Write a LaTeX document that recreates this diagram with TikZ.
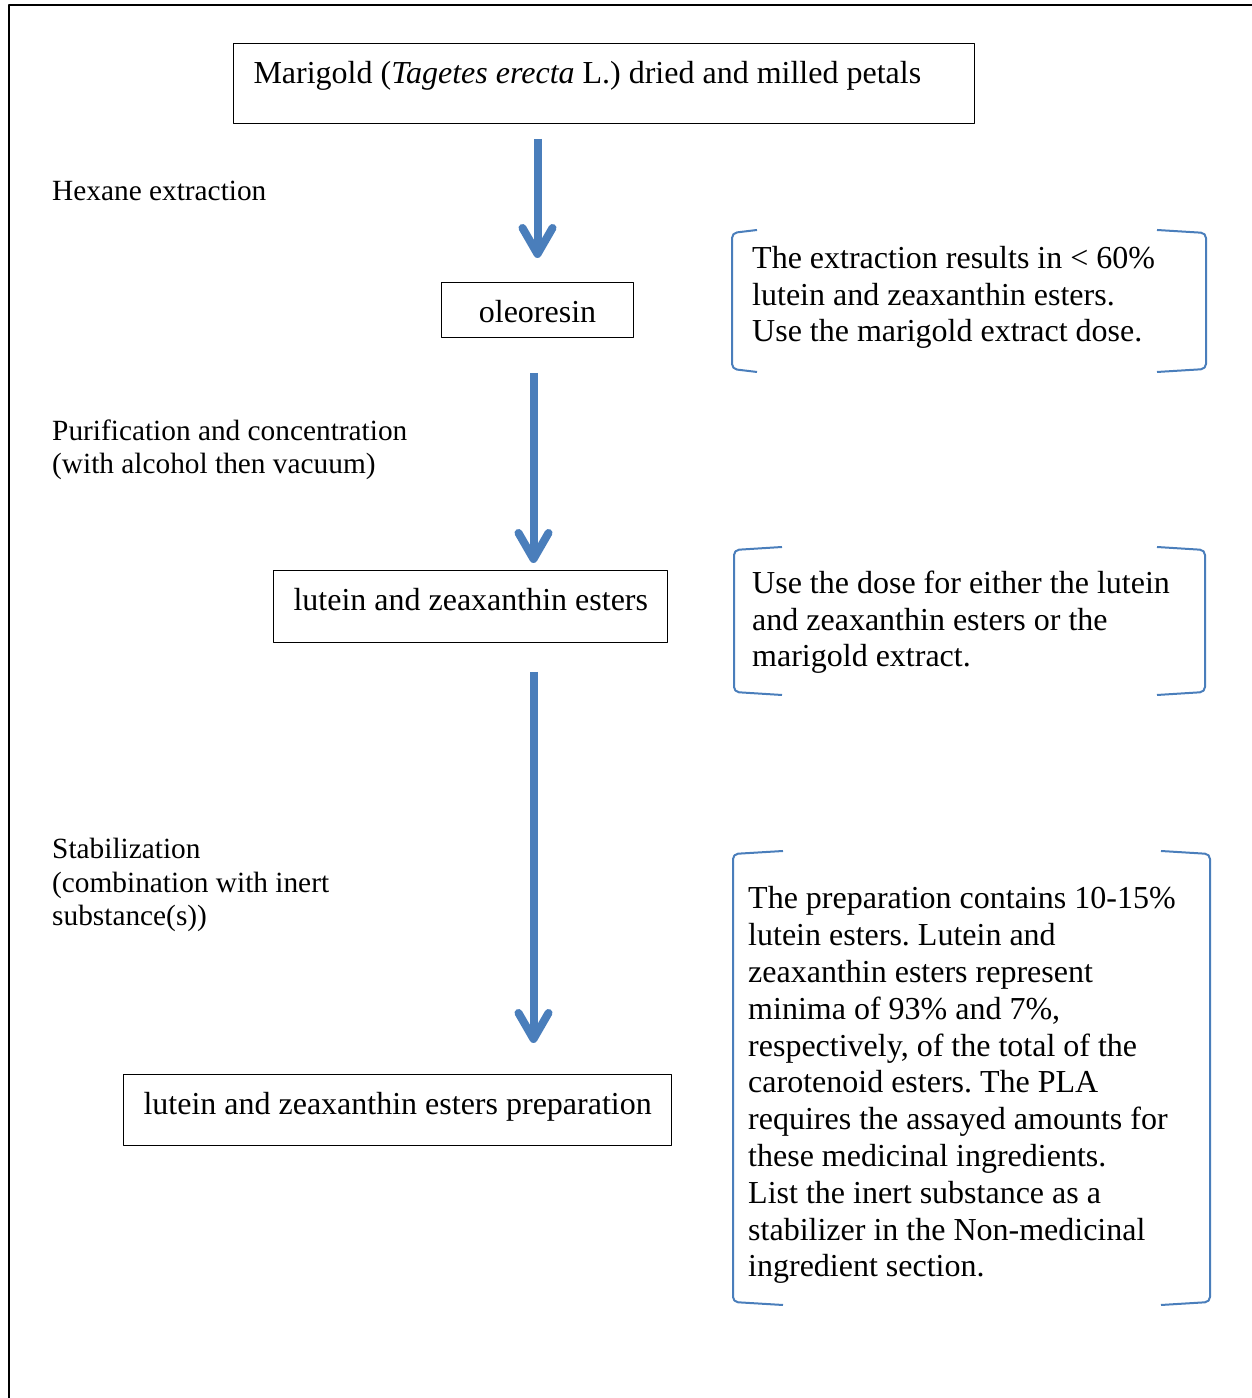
\documentclass[tikz,border=0pt]{standalone}
\usepackage{fontspec}
\setmainfont{Liberation Serif}
\usetikzlibrary{arrows.meta}

\definecolor{flowblue}{HTML}{4A7EBB}

\begin{document}
\frenchspacing
\begin{tikzpicture}[line join=bevel,
  box/.style={draw,line width=1bp,anchor=north west,inner xsep=20bp,inner ysep=0pt,
    align=flush left,text height=40bp,font=\fontsize{32bp}{36.8bp}\selectfont},
  note/.style={anchor=base west,inner sep=0pt,align=left,font=\fontsize{32bp}{36.8bp}\selectfont},
  stage/.style={anchor=base west,inner sep=0pt,align=left,font=\fontsize{29.33bp}{33.7bp}\selectfont},
  flow/.style={draw=flowblue,line width=8bp,-{Straight Barb[length=26bp,width=30bp,round]}},
  bracket/.style={draw=flowblue,line width=2bp,rounded corners=5bp},
]
\useasboundingbox (0bp,0bp) rectangle (1252bp,1398bp);
%%
  \draw [line width=2.5bp] (1252bp,1393bp) -- (9bp,1393bp) -- (9bp,0bp);
%% process boxes
  \node (marigold) at (233bp,1355bp) [box,text width=701bp,text depth=40bp]
    {\mbox{Marigold (\textit{Tagetes erecta} L.) dried and milled petals}};
  \node (oleo) at (441bp,1116bp) [box,text width=152bp,text depth=15bp,align=flush center] {\mbox{oleoresin}};
  \node (esters) at (273bp,828bp) [box,text width=354bp,text depth=32bp] {\mbox{lutein and zeaxanthin esters}};
  \node (prep) at (123bp,324bp) [box,text width=508bp,text depth=31bp] {\mbox{lutein and zeaxanthin esters preparation}};
%% arrows
  \draw [flow,shorten <=15bp,shorten >=24bp] (marigold.south -| oleo.north) -- (oleo.north);
  \draw [flow,shorten <=35bp,shorten >=7bp] ([xshift=-4bp]oleo.south) -- ([xshift=-4bp]oleo.south |- esters.north);
  \draw [flow,shorten <=29bp,shorten >=31bp] ([xshift=-4bp]oleo.south |- esters.south) -- ([xshift=-4bp]oleo.south |- prep.north);
%% step labels (anchored at the last line)
  \node (hexane) at (52bp,1197bp) [stage] {Hexane extraction};
  \node (purif) at (52bp,924bp) [stage] {Purification and concentration\\(with alcohol then vacuum)};
  \node (stabil) at (52bp,472bp) [stage] {Stabilization\\(combination with inert\\substance(s))};
%% notes
  \node (note1) at (752bp,1056bp) [note] {The extraction results in < 60\%\\lutein and zeaxanthin esters.\\Use the marigold extract dose.};
  \node (note2) at (752bp,731bp) [note] {Use the dose for either the lutein\\and zeaxanthin esters or the\\marigold extract.};
  \node (note3) at (748bp,121bp) [note] {The preparation contains 10-15\%\\lutein esters. Lutein and\\zeaxanthin esters represent\\minima of 93\% and 7\%,\\respectively, of the total of the\\carotenoid esters. The PLA\\requires the assayed amounts for\\these medicinal ingredients.\\List the inert substance as a\\stabilizer in the Non-medicinal\\ingredient section.};
%% brackets
  \draw [bracket] (757bp,1168bp) -- (732bp,1165bp) -- (732bp,1029bp) -- (757bp,1026bp);
  \draw [bracket] (1157bp,1168bp) -- (1206bp,1165bp) -- (1206bp,1029bp) -- (1157bp,1026bp);
  \draw [bracket] (782bp,851bp) -- (734bp,848bp) -- (734bp,706bp) -- (782bp,703bp);
  \draw [bracket] (1157bp,851bp) -- (1205bp,848bp) -- (1205bp,706bp) -- (1157bp,703bp);
  \draw [bracket] (783bp,547bp) -- (733bp,544bp) -- (733bp,96bp) -- (783bp,93bp);
  \draw [bracket] (1161bp,547bp) -- (1210bp,544bp) -- (1210bp,96bp) -- (1161bp,93bp);
%
\end{tikzpicture}
\end{document}
